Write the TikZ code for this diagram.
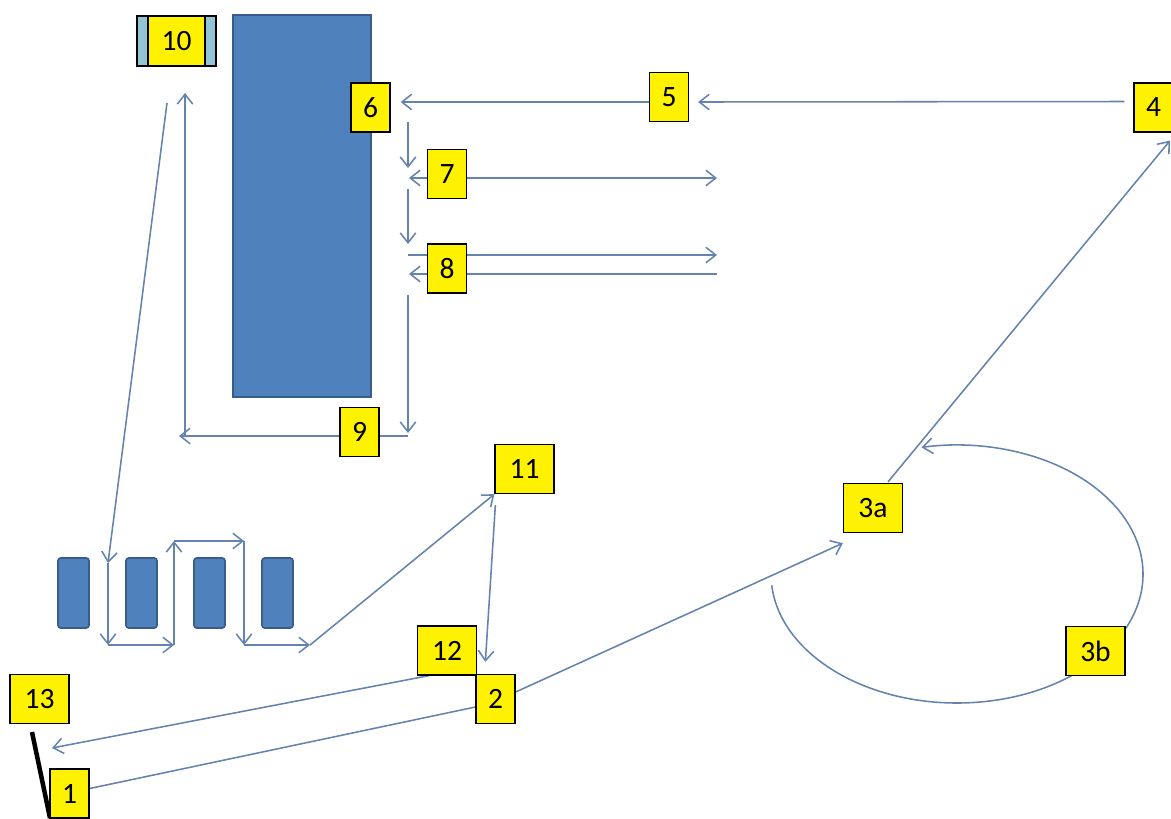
\documentclass[tikz,border=0pt]{standalone}
\usepackage{fontspec}
\setmainfont{Carlito}
\usetikzlibrary{arrows.meta,backgrounds}
\definecolor{boxblue}{RGB}{79,129,189}
\definecolor{boxedge}{RGB}{56,93,138}
\definecolor{lineblue}{RGB}{100,131,174}
\definecolor{capblue}{RGB}{147,196,214}
\tikzset{
	lbl/.style={draw=black,line width=0.9pt,fill=yellow,inner sep=0pt,minimum width=0.975cm,minimum height=1.225cm,font=\fontsize{21}{25}\selectfont},
	widelbl/.style={lbl,minimum width=1.475cm},
	flow/.style={draw=lineblue,line width=1.1pt,-{Straight Barb[length=7pt,width=11pt]}},
	link/.style={draw=lineblue,line width=1.1pt},
	block/.style={fill=boxblue,draw=boxedge,line width=1.2pt},
}
\begin{document}
\begin{tikzpicture}[x=0.025cm,y=-0.025cm]
	\useasboundingbox (0,0) rectangle (1171,818);
	\clip (0,0) rectangle (1171,818);
	\draw[block] (233,15) rectangle (371,397);
	\foreach \xl in {58,126,194,262}
		\draw[block,rounded corners=2pt] (\xl,558) rectangle ++(31,70);
	\draw[fill=capblue,line width=0.9pt] (137,16) rectangle (216,66);
	\node[lbl,minimum width=1.425cm,minimum height=1.25cm] (b10) at (176.5,41) {10};
	\node[lbl] (b6) at (370.5,107.5) {6};
	\node[lbl] (b5) at (669,97) {5};
	\node[lbl] (b4) at (1153.5,107.5) {4};
	\node[lbl] (b7) at (447,174) {7};
	\node[lbl] (b8) at (447,268.5) {8};
	\node[lbl] (b9) at (359.5,432) {9};
	\node[widelbl] (b11) at (524.5,469) {11};
	\node[widelbl] (b3a) at (873,508) {3a};
	\node[widelbl] (b3b) at (1095.5,651) {3b};
	\node[widelbl] (b12) at (447,650.5) {12};
	\node[lbl] (b2) at (495.5,699) {2};
	\node[widelbl] (b13) at (39.5,699) {13};
	\draw[black,line width=3.2pt] (32,732) -- (50,818);
	\node[lbl] (b1) at (69.5,793.5) {1};
	\coordinate (r1) at (408,122);
	\coordinate (r2) at (408,168);
	\coordinate (r3) at (409,178);
	\coordinate (t7) at (717,178);
	\coordinate (r4) at (408,189);
	\coordinate (r5) at (408,244);
	\coordinate (r6) at (408,255);
	\coordinate (t8a) at (717,255);
	\coordinate (t8b) at (717,274);
	\coordinate (r7) at (409,274);
	\coordinate (r8) at (408,295);
	\coordinate (r9) at (408,433);
	\coordinate (c9) at (408,436);
	\coordinate (l9) at (179,436);
	\coordinate (u0) at (185,436);
	\coordinate (u1) at (185,93);
	\coordinate (s1) at (167,103);
	\coordinate (m1) at (108,563);
	\coordinate (m2) at (108,645);
	\coordinate (m3) at (174,645);
	\coordinate (m4) at (174,541);
	\coordinate (m5) at (244,541);
	\coordinate (m6) at (244,645);
	\coordinate (m7) at (310,645);
	\coordinate (k13) at (52,748);
	\begin{scope}[on background layer]
	\fill[white] (0,0) rectangle (1171,818);
	\draw[flow] ([shift={(-9,-6)}]b4.west) -- ([shift={(9,5)}]b5.east);
	\draw[flow] ([shift={(0,5)}]b5.west) -- ([shift={(10,-5.5)}]b6.east);
	\draw[flow] (r1) -- (r2);
	\draw[flow] ([shift={(0,4)}]b7.west) -- (r3);
	\draw[flow] ([shift={(0,4)}]b7.east) -- (t7);
	\draw[flow] (r4) -- (r5);
	\draw[flow] (r6) -- (t8a);
	\draw[flow] (t8b) -- (r7);
	\draw[flow] (r8) -- (r9);
	\draw[flow] (c9) -- (l9);
	\draw[flow] (u0) -- (u1);
	\draw[flow] (s1) -- (m1);
	\draw[flow] (m1) -- (m2);
	\draw[flow] (m2) -- (m3);
	\draw[flow] (m3) -- (m4);
	\draw[flow] (m4) -- (m5);
	\draw[flow] (m5) -- (m6);
	\draw[flow] (m6) -- (m7);
	\draw[flow] (m7) -- (b11.south west);
	\draw[flow] ([shift={(1,11)}]b11.south west) -- ([shift={(10,-12)}]b2.north west);
	\draw[flow] ([shift={(12,0)}]b12.south west) -- (k13);
	\draw[link] ([shift={(0,-5)}]b1.east) -- ([shift={(0,8)}]b2.west);
	\draw[flow] ([shift={(0,-7)}]b2.east) -- ([shift={(0,10)}]b3a.south west);
	\draw[flow] ([shift={(15,-1)}]b3a.north) -- ([shift={(16.5,8)}]b4.south);
	\draw[flow] ([shift={(175:186 and 129)}]957,574) arc[start angle=175,end angle=-101,x radius=186,y radius=129];
	\end{scope}
\end{tikzpicture}
\end{document}
